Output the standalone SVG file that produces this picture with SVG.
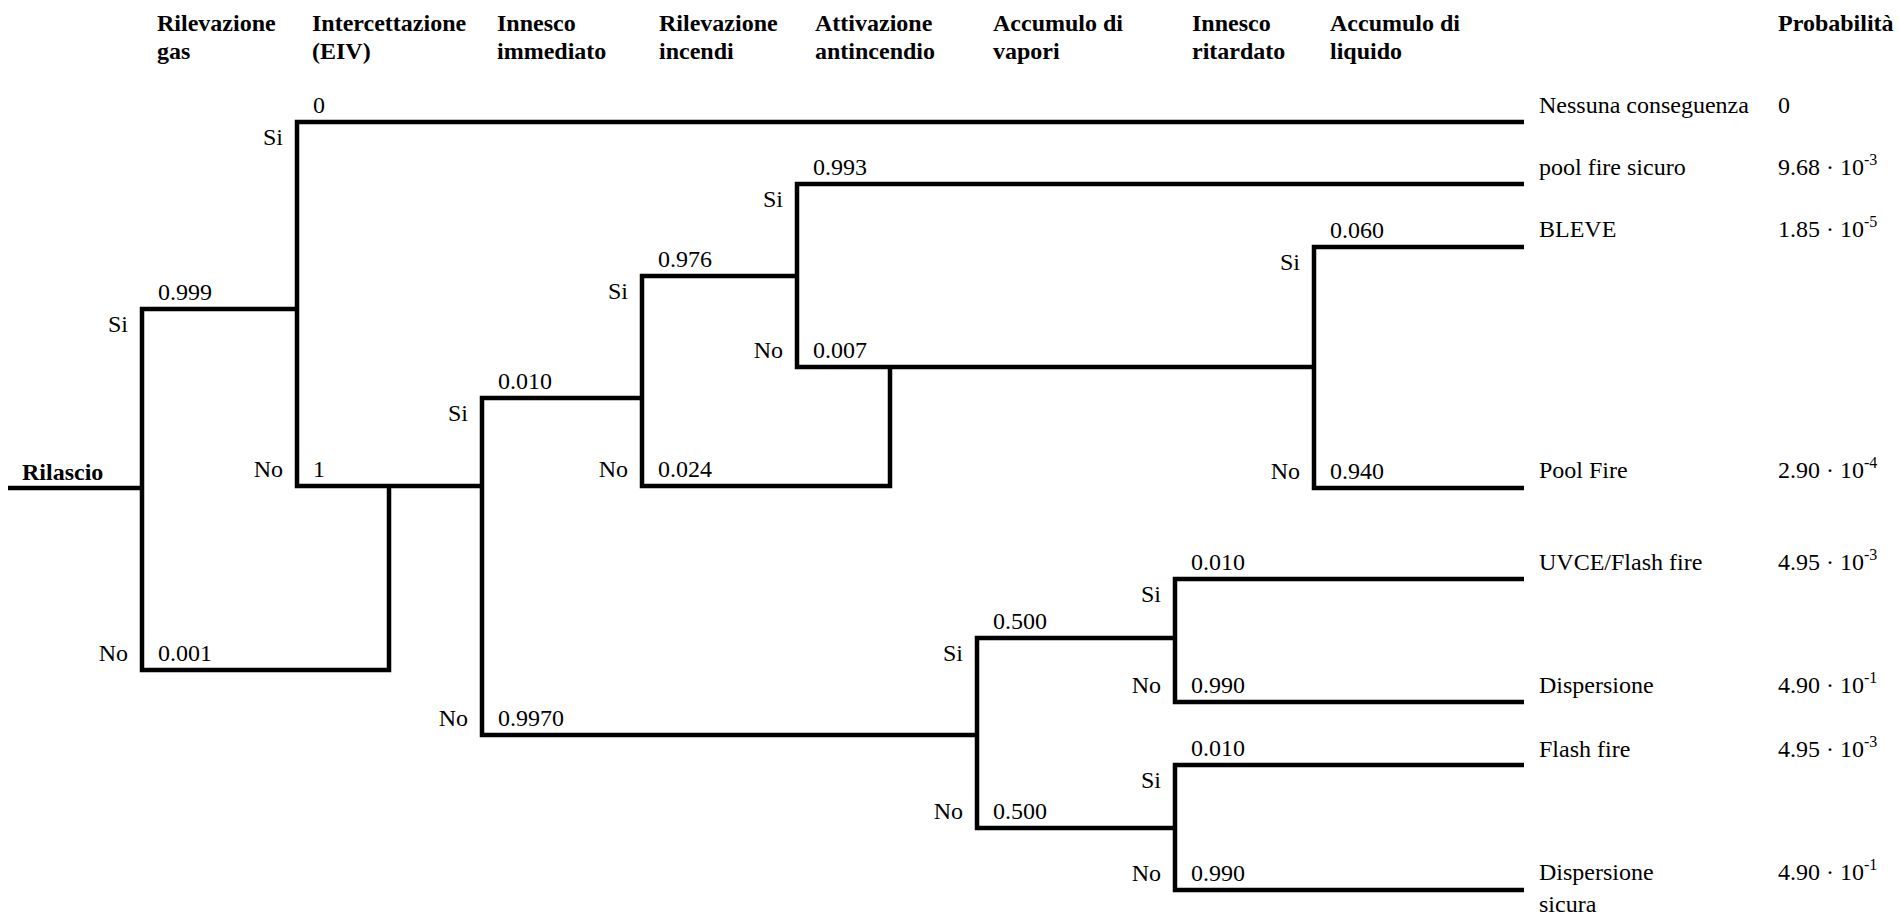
<svg xmlns="http://www.w3.org/2000/svg" width="1899" height="918" viewBox="0 0 1899 918" font-family="'Liberation Serif', 'Times New Roman', Times, 'DejaVu Serif', serif">
<style>
text{font-family:'Liberation Serif','Times New Roman',Times,'DejaVu Serif',serif;font-size:24px;fill:#000}
.h{font-weight:bold}
.e{text-anchor:end}
.ln{stroke:#000;stroke-width:4.5;fill:none;stroke-linejoin:miter}
.sup{font-size:16px}
</style>
<rect width="1899" height="918" fill="#fff"/>
<g id="headers">
<text class="h" x="157" y="31">Rilevazione</text><text class="h" x="157" y="59">gas</text>
<text class="h" x="312" y="31">Intercettazione</text><text class="h" x="312" y="59">(EIV)</text>
<text class="h" x="497" y="31">Innesco</text><text class="h" x="497" y="59">immediato</text>
<text class="h" x="659" y="31">Rilevazione</text><text class="h" x="659" y="59">incendi</text>
<text class="h" x="815" y="31">Attivazione</text><text class="h" x="815" y="59">antincendio</text>
<text class="h" x="993" y="31">Accumulo di</text><text class="h" x="993" y="59">vapori</text>
<text class="h" x="1192" y="31">Innesco</text><text class="h" x="1192" y="59">ritardato</text>
<text class="h" x="1330" y="31">Accumulo di</text><text class="h" x="1330" y="59">liquido</text>
<text class="h" x="1778" y="31">Probabilità</text>
</g>
<g id="connectors">
<path class="ln" d="M8 488 H142"/>
<path class="ln" d="M297 309 H142 V670 H389 V486"/>
<path class="ln" d="M1524 122 H297 V486 H482"/>
<path class="ln" d="M642 398 H482 V735 H977"/>
<path class="ln" d="M797 276 H642 V486 H890 V367"/>
<path class="ln" d="M1524 184 H797 V367 H1314"/>
<path class="ln" d="M1524 247 H1314 V488 H1524"/>
<path class="ln" d="M1175 638 H977 V828 H1175"/>
<path class="ln" d="M1524 579 H1175 V702 H1524"/>
<path class="ln" d="M1524 765 H1175 V890 H1524"/>
</g>
<g id="node-rilascio"><text class="h" x="22" y="480">Rilascio</text></g>
<g id="node-gas">
<text class="e" x="128" y="332">Si</text><text x="158" y="300">0.999</text>
<text class="e" x="128" y="661">No</text><text x="158" y="661">0.001</text>
</g>
<g id="node-eiv">
<text class="e" x="283" y="145">Si</text><text x="313" y="113">0</text>
<text class="e" x="283" y="477">No</text><text x="313" y="477">1</text>
</g>
<g id="node-innesco-imm">
<text class="e" x="468" y="421">Si</text><text x="498" y="389">0.010</text>
<text class="e" x="468" y="726">No</text><text x="498" y="726">0.9970</text>
</g>
<g id="node-ril-incendi">
<text class="e" x="628" y="299">Si</text><text x="658" y="267">0.976</text>
<text class="e" x="628" y="477">No</text><text x="658" y="477">0.024</text>
</g>
<g id="node-antincendio">
<text class="e" x="783" y="207">Si</text><text x="813" y="175">0.993</text>
<text class="e" x="783" y="358">No</text><text x="813" y="358">0.007</text>
</g>
<g id="node-liquido">
<text class="e" x="1300" y="270">Si</text><text x="1330" y="238">0.060</text>
<text class="e" x="1300" y="479">No</text><text x="1330" y="479">0.940</text>
</g>
<g id="node-vapori">
<text class="e" x="963" y="661">Si</text><text x="993" y="629">0.500</text>
<text class="e" x="963" y="819">No</text><text x="993" y="819">0.500</text>
</g>
<g id="node-ritardato-1">
<text class="e" x="1161" y="602">Si</text><text x="1191" y="570">0.010</text>
<text class="e" x="1161" y="693">No</text><text x="1191" y="693">0.990</text>
</g>
<g id="node-ritardato-2">
<text class="e" x="1161" y="788">Si</text><text x="1191" y="756">0.010</text>
<text class="e" x="1161" y="881">No</text><text x="1191" y="881">0.990</text>
</g>
<g id="outcomes">
<g id="out-1"><text x="1539" y="113">Nessuna conseguenza</text><text x="1778" y="113">0</text></g>
<g id="out-2"><text x="1539" y="175">pool fire sicuro</text><text x="1778" y="175">9.68 · 10<tspan class="sup" dy="-10">-3</tspan></text></g>
<g id="out-3"><text x="1539" y="237">BLEVE</text><text x="1778" y="237">1.85 · 10<tspan class="sup" dy="-10">-5</tspan></text></g>
<g id="out-4"><text x="1539" y="478">Pool Fire</text><text x="1778" y="478">2.90 · 10<tspan class="sup" dy="-10">-4</tspan></text></g>
<g id="out-5"><text x="1539" y="570">UVCE/Flash fire</text><text x="1778" y="570">4.95 · 10<tspan class="sup" dy="-10">-3</tspan></text></g>
<g id="out-6"><text x="1539" y="693">Dispersione</text><text x="1778" y="693">4.90 · 10<tspan class="sup" dy="-10">-1</tspan></text></g>
<g id="out-7"><text x="1539" y="757">Flash fire</text><text x="1778" y="757">4.95 · 10<tspan class="sup" dy="-10">-3</tspan></text></g>
<g id="out-8"><text x="1539" y="880">Dispersione</text><text x="1539" y="912">sicura</text><text x="1778" y="880">4.90 · 10<tspan class="sup" dy="-10">-1</tspan></text></g>
</g>
</svg>
